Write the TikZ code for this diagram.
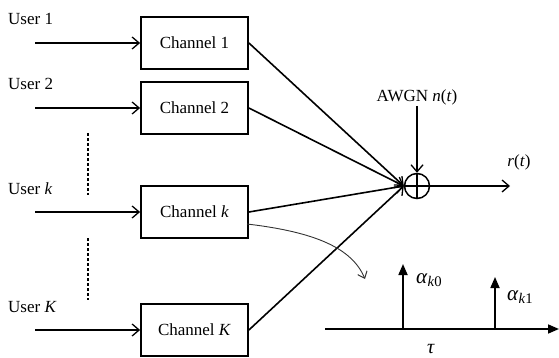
\documentclass[tikz,border=0pt]{standalone}
\usepackage{fontspec}
\setmainfont{Liberation Serif}
\usepackage{tikz}
\usetikzlibrary{arrows.meta,positioning}

\tikzset{
  chbox/.style={draw, line width=1.8pt, minimum width=107pt, minimum height=52pt, inner sep=0pt},
  sig/.style={line width=1.6pt, -{Straight Barb[length=7pt,width=12pt,line width=1.3pt]}},
  spike/.style={line width=1.7pt, -{Triangle[length=11pt,width=9pt]}},
  lbl/.style={inner sep=0pt, anchor=base west}
}

\begin{document}
\begin{tikzpicture}[x=1pt, y=-1pt, font=\fontsize{17}{20}\selectfont]
  \useasboundingbox (0,0) rectangle (559,358);

  % users feeding their channels
  \foreach \n/\y/\lab in {1/43/1, 2/108/2, k/212/\textit{k}, K/330/\textit{K}} {
    \node[chbox] (ch\n) at (194.5,\y) {Channel \lab};
    \node[lbl] (user\n) at (8,\y-18) {User \lab};
    \coordinate (in\n) at (35,\y);
    \draw[sig] (in\n) -- (ch\n.west);
  }

  % dots between the users
  \coordinate (d1) at (88,133); \coordinate (d2) at (88,195);
  \coordinate (d3) at (88,238); \coordinate (d4) at (88,300);
  \draw[line width=1.4pt, dash pattern=on 3pt off 2pt] (d1) -- (d2);
  \draw[line width=1.4pt, dash pattern=on 3pt off 2pt] (d3) -- (d4);

  % adder with noise
  \node[draw, circle, line width=1.5pt, minimum size=25pt, inner sep=0pt] (sum) at (417,186) {};
  \draw[line width=1.4pt] (sum.north) -- (sum.south) (sum.west) -- (sum.east);
  \foreach \n in {1,2,k,K} \draw[sig] (ch\n.east) -- (sum.west);
  \node[inner sep=0pt, anchor=base] (awgn) at (417,102) {AWGN \textit{n}(\textit{t})};
  \draw[sig] (awgn.south) -- (sum.north);
  \coordinate (out) at (510,186);
  \draw[sig] (sum.east) -- (out);
  \node[inner sep=0pt, anchor=base] (rt) at (519,167) {\textit{r}(\textit{t})};

  % channel k impulse response
  \coordinate (tap) at (247,224);
  \coordinate (zoom) at (365,279);
  \draw[black!80, line width=0.9pt, -{Straight Barb[length=6pt,width=10pt,line width=1pt]}]
    (tap) .. controls (315,232) and (352,248) .. (zoom);
  \coordinate (ax0) at (325,329); \coordinate (ax1) at (559,329);
  \draw[spike] (ax0) -- (ax1);
  \coordinate (p0) at (403,329); \coordinate (q0) at (403,264);
  \coordinate (p1) at (495,329); \coordinate (q1) at (495,277);
  \draw[spike] (p0) -- (q0);
  \draw[spike] (p1) -- (q1);
  \node[lbl, font=\fontsize{21}{24}\selectfont] (a0) at (416,283) {\textit{α}\textsubscript{\textit{k}0}};
  \node[lbl, font=\fontsize{21}{24}\selectfont] (a1) at (507,300) {\textit{α}\textsubscript{\textit{k}1}};
  \node[inner sep=0pt, font=\fontsize{20}{24}\selectfont] (tau) at (431,349) {\textit{τ}};
\end{tikzpicture}
\end{document}
